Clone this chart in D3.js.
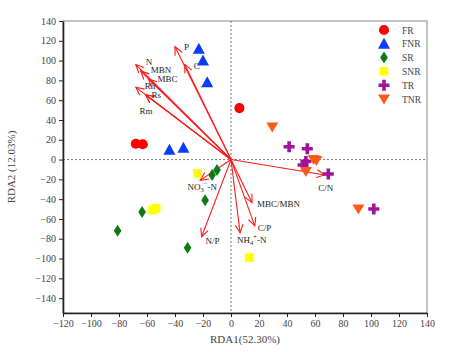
<!DOCTYPE html>
<html>
<head>
<meta charset="utf-8">
<script src="https://cdn.jsdelivr.net/npm/d3@7"></script>
<style>
  body { margin: 0; background: #fff; }
  text { font-family: "Liberation Serif", "Times New Roman", serif; }
</style>
</head>
<body>
<div id="chart"></div>
<script>
// sample groups
const groups = ["FR", "FNR", "SR", "SNR", "TR", "TNR"];
const groupColors = ["#ff0000", "#0a3cff", "#0b7a12", "#ffff00", "#a0139b", "#ff5a1a"];

// site scores, per group
const frX = [-68, -63, 6];
const frY = [16, 15.5, 52];
const fnrX = [-23, -20, -17, -44, -34];
const fnrY = [112, 100, 78, 10, 12];
const srX = [-81, -63.5, -31, -18.5, -13.5, -10];
const srY = [-72, -53, -89, -41, -15.5, -10.5];
const snrX = [-24, -56, -53.5, 13];
const snrY = [-14, -51, -49, -99];
const trX = [41.5, 54.5, 51.5, 53.5, 69.5, 102];
const trY = [13, 11, -5.5, -2, -14.5, -50];
const tnrX = [29.5, 59, 61, 53.5, 91];
const tnrY = [33, 0, -1, -12, -50];

// environmental vectors (arrow tips)
const envNames = ["P", "C", "N", "MBN", "MBC", "Rh", "Rs", "Rm",
  "NO3-N", "N/P", "MBC/MBN", "C/P", "NH4-N", "C/N"];
const envX = [-40, -33, -68, -64.5, -59, -68, -61, -61, -22, -21, 15, 17, 6.5, 67];
const envY = [114, 96, 96, 89.5, 81.5, 73, 65.5, 65.5, -21, -78, -43.5, -67, -74, -15.5];

const xTicks = d3.range(-120, 141, 20);
const yTicks = d3.range(-140, 141, 20);

const width = 453, height = 352;
const margin = { left: 63, top: 21, right: 26, bottom: 39 };

const svg = d3.select("#chart").append("svg")
  .attr("width", width)
  .attr("height", height);

const x = d3.scaleLinear().domain([-120, 140]).range([margin.left, width - margin.right]);
const y = d3.scaleLinear().domain([-155, 140]).range([height - margin.bottom, margin.top]);

// frame (grey top/right)
svg.append("rect")
  .attr("x", x(-120)).attr("y", y(140))
  .attr("width", x(140) - x(-120)).attr("height", y(-155) - y(140))
  .attr("fill", "none").attr("stroke", "#888").attr("stroke-width", 1);

// zero lines
svg.append("line")
  .attr("x1", x(0)).attr("x2", x(0)).attr("y1", y(140)).attr("y2", y(-155))
  .attr("stroke", "#777").attr("stroke-dasharray", "2,2");
svg.append("line")
  .attr("x1", x(-120)).attr("x2", x(140)).attr("y1", y(0)).attr("y2", y(0))
  .attr("stroke", "#777").attr("stroke-dasharray", "2,2");

// axes
const xAxis = svg.append("g")
  .attr("transform", `translate(0,${y(-155)})`)
  .call(d3.axisBottom(x).tickValues(xTicks).tickSize(4).tickSizeOuter(0));
const yAxis = svg.append("g")
  .attr("transform", `translate(${x(-120)},0)`)
  .call(d3.axisLeft(y).tickValues(yTicks).tickSize(4).tickSizeOuter(0));

[xAxis, yAxis].forEach(function (g) {
  g.select(".domain").attr("stroke", "#222").attr("stroke-width", 1.6);
  g.selectAll(".tick line").attr("stroke", "#222");
  g.selectAll(".tick text")
    .attr("fill", "#444")
    .style("font-family", "'Liberation Serif', serif")
    .style("font-size", "10px");
});

// axis titles
svg.append("text")
  .attr("x", (x(-120) + x(140)) / 2).attr("y", 343)
  .attr("text-anchor", "middle")
  .attr("fill", "#444").style("font-size", "11px")
  .text("RDA1(52.30%)");
svg.append("text")
  .attr("transform", `translate(15,${(y(140) + y(-155)) / 2}) rotate(-90)`)
  .attr("text-anchor", "middle")
  .attr("fill", "#444").style("font-size", "11px")
  .text("RDA2 (12.03%)");

// arrows
const arrowG = svg.append("g");
const headLen = 9, headAng = Math.PI / 7;
envNames.forEach(function (name, i) {
  const x0 = x(0), y0 = y(0), x1 = x(envX[i]), y1 = y(envY[i]);
  const a = Math.atan2(y1 - y0, x1 - x0);
  arrowG.append("line")
    .attr("x1", x0).attr("y1", y0).attr("x2", x1).attr("y2", y1)
    .attr("stroke", "#ff1a1a").attr("stroke-width", 1.1);
  arrowG.append("path")
    .attr("d", `M${x1 - headLen * Math.cos(a - headAng)},${y1 - headLen * Math.sin(a - headAng)}` +
      `L${x1},${y1}L${x1 - headLen * Math.cos(a + headAng)},${y1 - headLen * Math.sin(a + headAng)}`)
    .attr("fill", "none").attr("stroke", "#ff1a1a").attr("stroke-width", 1.1);
});

// label offsets from arrow tips (px)
const labelOffsets = {
  "P": [9, 3, "start"], "C": [9, 4, "start"], "N": [10, 0, "start"],
  "MBN": [10, 2, "start"], "MBC": [9, 3, "start"], "Rh": [9, 2, "start"],
  "Rs": [6, 3, "start"], "Rm": [-6, 19, "start"],
  "NO3-N": [2, 10, "middle"], "N/P": [4, 7, "start"], "MBC/MBN": [5, 4, "start"],
  "C/P": [3, 5, "start"], "NH4-N": [-3, 10, "start"], "C/N": [1, 16, "middle"]
};
envNames.forEach(function (name, i) {
  const o = labelOffsets[name];
  const t = svg.append("text")
    .attr("x", x(envX[i]) + o[0]).attr("y", y(envY[i]) + o[1])
    .attr("text-anchor", o[2])
    .attr("fill", "#222").style("font-size", "9px");
  if (name === "NO3-N") {
    t.append("tspan").text("NO");
    t.append("tspan").attr("dy", 2).style("font-size", "6.5px").text("3");
    t.append("tspan").attr("dy", -6).style("font-size", "6.5px").text("\u2212");
    t.append("tspan").attr("dy", 4).text("-N");
  } else if (name === "NH4-N") {
    t.append("tspan").text("NH");
    t.append("tspan").attr("dy", 2).style("font-size", "6.5px").text("4");
    t.append("tspan").attr("dy", -6).style("font-size", "6.5px").text("+");
    t.append("tspan").attr("dy", 4).text("-N");
  } else {
    t.text(name);
  }
});

// symbols
function markerPath(gi) {
  if (gi === 0) return d3.symbol().type(d3.symbolCircle).size(80)();
  if (gi === 1) return "M0,-6L6,5H-6Z";                     // triangle
  if (gi === 2) return "M0,-6L3.8,0L0,6L-3.8,0Z";           // diamond
  if (gi === 3) return d3.symbol().type(d3.symbolSquare).size(75)();
  if (gi === 4) return "M-1.8,-5.5H1.8V-1.8H5.5V1.8H1.8V5.5H-1.8V1.8H-5.5V-1.8H-1.8Z"; // cross
  return "M-6,-4.5H6L0,5.5Z";                               // down triangle
}

const pointsX = [frX, fnrX, srX, snrX, trX, tnrX];
const pointsY = [frY, fnrY, srY, snrY, trY, tnrY];
const pts = [];
groups.forEach(function (g, gi) {
  pointsX[gi].forEach(function (v, j) { pts.push({ g: gi, x: v, y: pointsY[gi][j] }); });
});

svg.append("g").selectAll("path")
  .data(pts)
  .join("path")
  .attr("transform", d => `translate(${x(d.x)},${y(d.y)})`)
  .attr("d", d => markerPath(d.g))
  .attr("fill", d => groupColors[d.g]);

// legend
const legend = svg.append("g").selectAll("g")
  .data(groups)
  .join("g")
  .attr("transform", (d, i) => `translate(384,${30 + i * 13.8})`);
legend.append("path")
  .attr("d", (d, i) => markerPath(i))
  .attr("fill", (d, i) => groupColors[i]);
legend.append("text")
  .attr("x", 18).attr("y", 3.5)
  .attr("fill", "#444").style("font-size", "9.5px")
  .text(d => d);
</script>
</body>
</html>
